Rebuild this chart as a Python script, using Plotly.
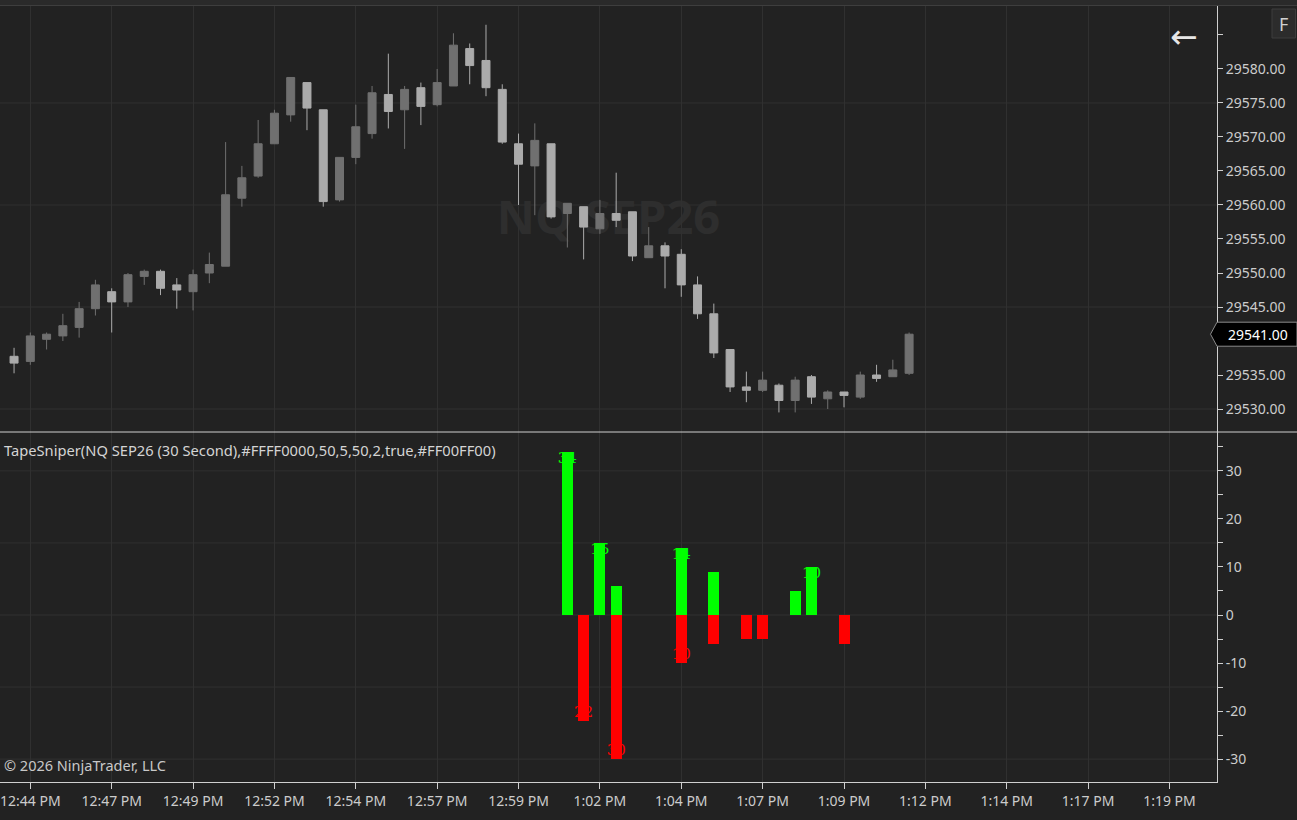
import plotly.graph_objects as go

# ---------------- data ----------------
day = "2026-06-15 "
bar_clock = [
    "12:44:00", "12:44:30", "12:45:00", "12:45:30", "12:46:00", "12:46:30", "12:47:00", "12:47:30",
    "12:48:00", "12:48:30", "12:49:00", "12:49:30", "12:50:00", "12:50:30", "12:51:00", "12:51:30",
    "12:52:00", "12:52:30", "12:53:00", "12:53:30", "12:54:00", "12:54:30", "12:55:00", "12:55:30",
    "12:56:00", "12:56:30", "12:57:00", "12:57:30", "12:58:00", "12:58:30", "12:59:00", "12:59:30",
    "13:00:00", "13:00:30", "13:01:00", "13:01:30", "13:02:00", "13:02:30", "13:03:00", "13:03:30",
    "13:04:00", "13:04:30", "13:05:00", "13:05:30", "13:06:00", "13:06:30", "13:07:00", "13:07:30",
    "13:08:00", "13:08:30", "13:09:00", "13:09:30", "13:10:00", "13:10:30", "13:11:00", "13:11:30",
]
opens = [
    29537.75, 29537.00, 29540.25, 29540.75, 29542.00, 29544.75, 29547.25, 29545.75,
    29549.50, 29550.25, 29548.25, 29547.25, 29550.00, 29551.00, 29561.00, 29564.25,
    29569.00, 29573.25, 29578.00, 29574.00, 29560.75, 29567.00, 29570.50, 29576.25,
    29574.00, 29577.25, 29574.75, 29577.50, 29583.00, 29581.25, 29577.00, 29569.00,
    29565.75, 29569.00, 29558.75, 29559.75, 29556.50, 29558.75, 29559.00, 29552.25,
    29554.00, 29552.75, 29548.25, 29544.00, 29538.75, 29533.25, 29532.75, 29533.50,
    29531.25, 29534.75, 29531.50, 29532.50, 29531.75, 29535.00, 29534.75, 29535.25,
]
highs = [
    29539.00, 29541.25, 29541.25, 29544.00, 29545.75, 29549.00, 29547.75, 29550.00,
    29550.50, 29550.50, 29549.25, 29550.50, 29553.00, 29569.25, 29565.75, 29572.50,
    29574.00, 29578.75, 29578.00, 29574.00, 29567.00, 29574.75, 29577.50, 29582.25,
    29577.50, 29578.00, 29580.00, 29585.25, 29583.75, 29586.50, 29577.75, 29570.50,
    29572.00, 29569.00, 29560.25, 29559.75, 29560.75, 29564.75, 29559.00, 29556.75,
    29554.50, 29553.50, 29549.50, 29545.50, 29538.75, 29535.50, 29535.50, 29533.75,
    29534.75, 29535.00, 29532.75, 29532.50, 29535.50, 29536.50, 29537.25, 29541.25,
]
lows = [
    29535.25, 29536.50, 29538.75, 29540.00, 29540.50, 29543.75, 29541.25, 29545.00,
    29548.25, 29546.75, 29544.75, 29544.50, 29548.50, 29551.00, 29559.75, 29564.00,
    29569.00, 29572.25, 29571.00, 29559.75, 29560.50, 29566.00, 29569.75, 29571.25,
    29568.25, 29571.75, 29574.50, 29577.50, 29577.75, 29576.00, 29569.00, 29560.00,
    29558.50, 29558.00, 29553.75, 29552.00, 29555.75, 29556.75, 29551.75, 29552.25,
    29547.75, 29546.50, 29543.25, 29537.50, 29532.50, 29531.00, 29532.50, 29529.50,
    29529.50, 29530.75, 29530.00, 29530.25, 29531.50, 29534.00, 29534.75, 29535.00,
]
closes = [
    29536.75, 29540.75, 29541.00, 29542.25, 29544.75, 29548.25, 29545.75, 29549.75,
    29550.25, 29547.75, 29547.50, 29549.75, 29551.25, 29561.50, 29564.00, 29569.00,
    29573.50, 29578.75, 29574.25, 29560.50, 29567.00, 29571.50, 29576.50, 29573.75,
    29577.00, 29574.50, 29578.00, 29583.50, 29580.50, 29577.25, 29569.25, 29566.00,
    29569.50, 29558.25, 29560.25, 29556.75, 29558.75, 29557.75, 29552.50, 29554.00,
    29552.50, 29548.25, 29544.00, 29538.25, 29533.25, 29532.75, 29534.25, 29531.25,
    29534.25, 29531.75, 29532.50, 29532.00, 29535.00, 29534.50, 29535.75, 29541.00,
]

# TapeSniper indicator (buy volume up, sell volume down)
buy_clock = ["13:01:00", "13:02:00", "13:02:30", "13:04:30", "13:05:30", "13:08:00", "13:08:30"]
buy_vals = [34, 15, 6, 14, 9, 5, 10]
sell_clock = ["13:01:30", "13:02:30", "13:04:30", "13:05:30", "13:06:30", "13:07:00", "13:09:30"]
sell_vals = [-22, -30, -10, -6, -5, -5, -6]
buy_label_clock = ["13:01:00", "13:02:00", "13:04:30", "13:08:30"]
buy_labels = [34, 15, 14, 10]
sell_label_clock = ["13:01:30", "13:02:30", "13:04:30"]
sell_labels = [-22, -30, -10]

# axis ticks
x_tick_clock = ["12:44:30", "12:47:00", "12:49:30", "12:52:00", "12:54:30", "12:57:00", "12:59:30",
                "13:02:00", "13:04:30", "13:07:00", "13:09:30", "13:12:00", "13:14:30", "13:17:00",
                "13:19:30"]
x_tick_labels = ["12:44 PM", "12:47 PM", "12:49 PM", "12:52 PM", "12:54 PM", "12:57 PM", "12:59 PM",
                 "1:02 PM", "1:04 PM", "1:07 PM", "1:09 PM", "1:12 PM", "1:14 PM", "1:17 PM", "1:19 PM"]
price_ticks = [29530, 29535, 29540, 29545, 29550, 29555, 29560, 29565, 29570, 29575, 29580, 29585]
price_tick_labels = ["29530.00", "29535.00", "29540.00", "29545.00", "29550.00", "29555.00",
                     "29560.00", "29565.00", "29570.00", "29575.00", "29580.00", ""]
price_grid = [29530, 29545, 29560, 29575]
ind_ticks = [-30, -25, -20, -15, -10, -5, 0, 5, 10, 15, 20, 25, 30, 35]
ind_tick_labels = ["-30", "", "-20", "", "-10", "", "0", "", "10", "", "20", "", "30", ""]
ind_grid = [-30, -15, 0, 15, 30]
last_price = 29541.00

instrument = "NQ SEP26"
indicator_title = "TapeSniper(NQ SEP26 (30 Second),#FFFF0000,50,5,50,2,true,#FF00FF00)"
copyright_text = "\u00a9 2026 NinjaTrader, LLC"

# ---------------- style ----------------
BG = "#222222"
GRID = "#303030"
AXIS = "#cfcfcf"
TXT = "#cccccc"
UP = "#707070"
DOWN = "#ababab"
GREEN = "#00ff00"
RED = "#ff0000"
FONT = "Noto Sans"

W, H = 1297, 820
ML, MR, MT, MB = 0, 80, 6, 38
PW = W - ML - MR
PH = H - MT - MB
split = (782 - 432) / PH  # indicator panel height fraction


def px_x(px):
    return (px - ML) / PW


def px_y(py):
    return (H - MB - py) / PH


t = [day + c for c in bar_clock]
fig = go.Figure()

fig.add_trace(go.Candlestick(
    x=t, open=opens, high=highs, low=lows, close=closes,
    xaxis="x2", yaxis="y",
    increasing=dict(line=dict(color=UP, width=1), fillcolor=UP),
    decreasing=dict(line=dict(color=DOWN, width=1), fillcolor=DOWN),
    whiskerwidth=0, showlegend=False, hoverinfo="skip",
))

bar_w = 20300
fig.add_trace(go.Bar(x=[day + c for c in buy_clock], y=buy_vals, width=bar_w,
                     marker=dict(color=GREEN, line=dict(width=0)),
                     xaxis="x", yaxis="y2", showlegend=False, hoverinfo="skip"))
fig.add_trace(go.Bar(x=[day + c for c in sell_clock], y=sell_vals, width=bar_w,
                     marker=dict(color=RED, line=dict(width=0)),
                     xaxis="x", yaxis="y2", showlegend=False, hoverinfo="skip"))
fig.add_trace(go.Scatter(x=[day + c for c in buy_label_clock], y=buy_labels, mode="text",
                         text=[str(v) for v in buy_labels], textposition="bottom center",
                         textfont=dict(color=GREEN, size=15, family="DejaVu Serif"),
                         xaxis="x", yaxis="y2", showlegend=False, hoverinfo="skip"))
fig.add_trace(go.Scatter(x=[day + c for c in sell_label_clock], y=sell_labels, mode="text",
                         text=[str(abs(v)) for v in sell_labels], textposition="top center",
                         textfont=dict(color=RED, size=15, family="DejaVu Serif"),
                         xaxis="x", yaxis="y2", showlegend=False, hoverinfo="skip"))

x_range = [day + "12:43:34.1", day + "13:20:57.6"]
x_ticks = [day + c for c in x_tick_clock]

shapes = []
# watermark (drawn beneath the candles)
shapes.append(dict(type="rect", xref="x2 domain", yref="y domain", x0=0.3, x1=0.7, y0=0.4, y1=0.6,
                   line=dict(width=0), fillcolor="rgba(0,0,0,0)", layer="below",
                   label=dict(text=instrument, textposition="middle center",
                              font=dict(family="Open Sans", size=47, color="#2e2e2e", weight="bold"))))
for g in price_grid:
    shapes.append(dict(type="line", xref="paper", yref="y", x0=0, x1=1, y0=g, y1=g,
                       line=dict(color=GRID, width=1), layer="below"))
for g in ind_grid:
    shapes.append(dict(type="line", xref="paper", yref="y2", x0=0, x1=1, y0=g, y1=g,
                       line=dict(color=GRID, width=1), layer="below"))
# top strip
shapes.append(dict(type="rect", xref="paper", yref="paper", x0=0, x1=px_x(W), y0=px_y(5.5), y1=px_y(0),
                   fillcolor="#2a2a2a", line=dict(width=0), layer="above"))
shapes.append(dict(type="line", xref="paper", yref="paper", x0=0, x1=px_x(W), y0=px_y(5.5), y1=px_y(5.5),
                   line=dict(color="#3e3e3e", width=1), layer="above"))
# panel separator
shapes.append(dict(type="line", xref="paper", yref="paper", x0=0, x1=px_x(W), y0=split, y1=split,
                   line=dict(color=AXIS, width=1), layer="above"))
# F button
shapes.append(dict(type="rect", xref="paper", yref="paper", x0=px_x(1272), x1=px_x(1295.5),
                   y0=px_y(38), y1=px_y(9), fillcolor="#2c2c2c", line=dict(color="#3c3c3c", width=1),
                   layer="above"))
# last price marker
half = 12 / 6.8
tip = px_x(1210.5)
x_ax = px_x(1217)
x_end = px_x(W)
path = (f"M {tip},{last_price} L {x_ax},{last_price + half} L {x_end},{last_price + half} "
        f"L {x_end},{last_price - half} L {x_ax},{last_price - half} Z")
shapes.append(dict(type="path", xref="paper", yref="y", path=path, fillcolor="#000000",
                   line=dict(color="#8a8a8a", width=1), layer="above"))

annotations = [
    dict(text=indicator_title, xref="paper", yref="y2 domain", x=px_x(2), y=(782 - 450) / 350,
         showarrow=False, xanchor="left", yanchor="middle", font=dict(family=FONT, size=14.7, color="#d4d4d4")),
    dict(text=copyright_text, xref="paper", yref="y2 domain", x=px_x(2), y=(782 - 765) / 350,
         showarrow=False, xanchor="left", yanchor="middle", font=dict(family=FONT, size=14.5, color="#c8c8c8")),
    dict(text=f"{last_price:.2f}", xref="paper", yref="y", x=px_x(1226), y=last_price, showarrow=False,
         xanchor="left", yanchor="middle", font=dict(family=FONT, size=14, color="#ffffff")),
    dict(text="F", xref="paper", yref="paper", x=px_x(1283.8), y=px_y(23.5), showarrow=False,
         xanchor="center", yanchor="middle", font=dict(family=FONT, size=18, color="#d0d0d0")),
    dict(text="\u2190", xref="paper", yref="paper", x=px_x(1184), y=px_y(37), showarrow=False,
         xanchor="center", yanchor="middle", font=dict(family="DejaVu Sans", size=33, color="#e6e6e6")),
]

fig.update_layout(
    width=W, height=H,
    margin=dict(l=ML, r=MR, t=MT, b=MB, pad=0),
    paper_bgcolor=BG, plot_bgcolor=BG,
    font=dict(family=FONT, size=14, color=TXT),
    barmode="relative", bargap=0,
    showlegend=False,
    xaxis=dict(type="date", range=x_range, anchor="y2", domain=[0, 1],
               tickmode="array", tickvals=x_ticks, ticktext=x_tick_labels,
               ticks="outside", ticklen=6, tickcolor=AXIS, tickwidth=1,
               showline=True, linecolor=AXIS, linewidth=1, mirror=False,
               showgrid=True, gridcolor=GRID, gridwidth=1, zeroline=False,
               tickfont=dict(family=FONT, size=14, color=TXT),
               rangeslider=dict(visible=False), fixedrange=True),
    xaxis2=dict(type="date", range=x_range, anchor="y", domain=[0, 1], matches="x",
                tickmode="array", tickvals=x_ticks, showticklabels=False, ticks="",
                showline=False, showgrid=True, gridcolor=GRID, gridwidth=1, zeroline=False,
                rangeslider=dict(visible=False)),
    yaxis=dict(domain=[split, 1], anchor="x2", side="right", range=[29526.62, 29589.26],
               tickmode="array", tickvals=price_ticks, ticktext=price_tick_labels,
               ticks="outside", ticklen=5, tickcolor=AXIS, tickwidth=1,
               showline=True, linecolor=AXIS, linewidth=1, showgrid=False, zeroline=False,
               tickfont=dict(family=FONT, size=14, color=TXT)),
    yaxis2=dict(domain=[0, split], anchor="x", side="right", range=[-34.76, 38.09],
                tickmode="array", tickvals=ind_ticks, ticktext=ind_tick_labels,
                ticks="outside", ticklen=5, tickcolor=AXIS, tickwidth=1,
                showline=True, linecolor=AXIS, linewidth=1, showgrid=False, zeroline=False,
                tickfont=dict(family=FONT, size=14, color=TXT)),
    shapes=shapes,
    annotations=annotations,
)

fig.write_html("out.html")
